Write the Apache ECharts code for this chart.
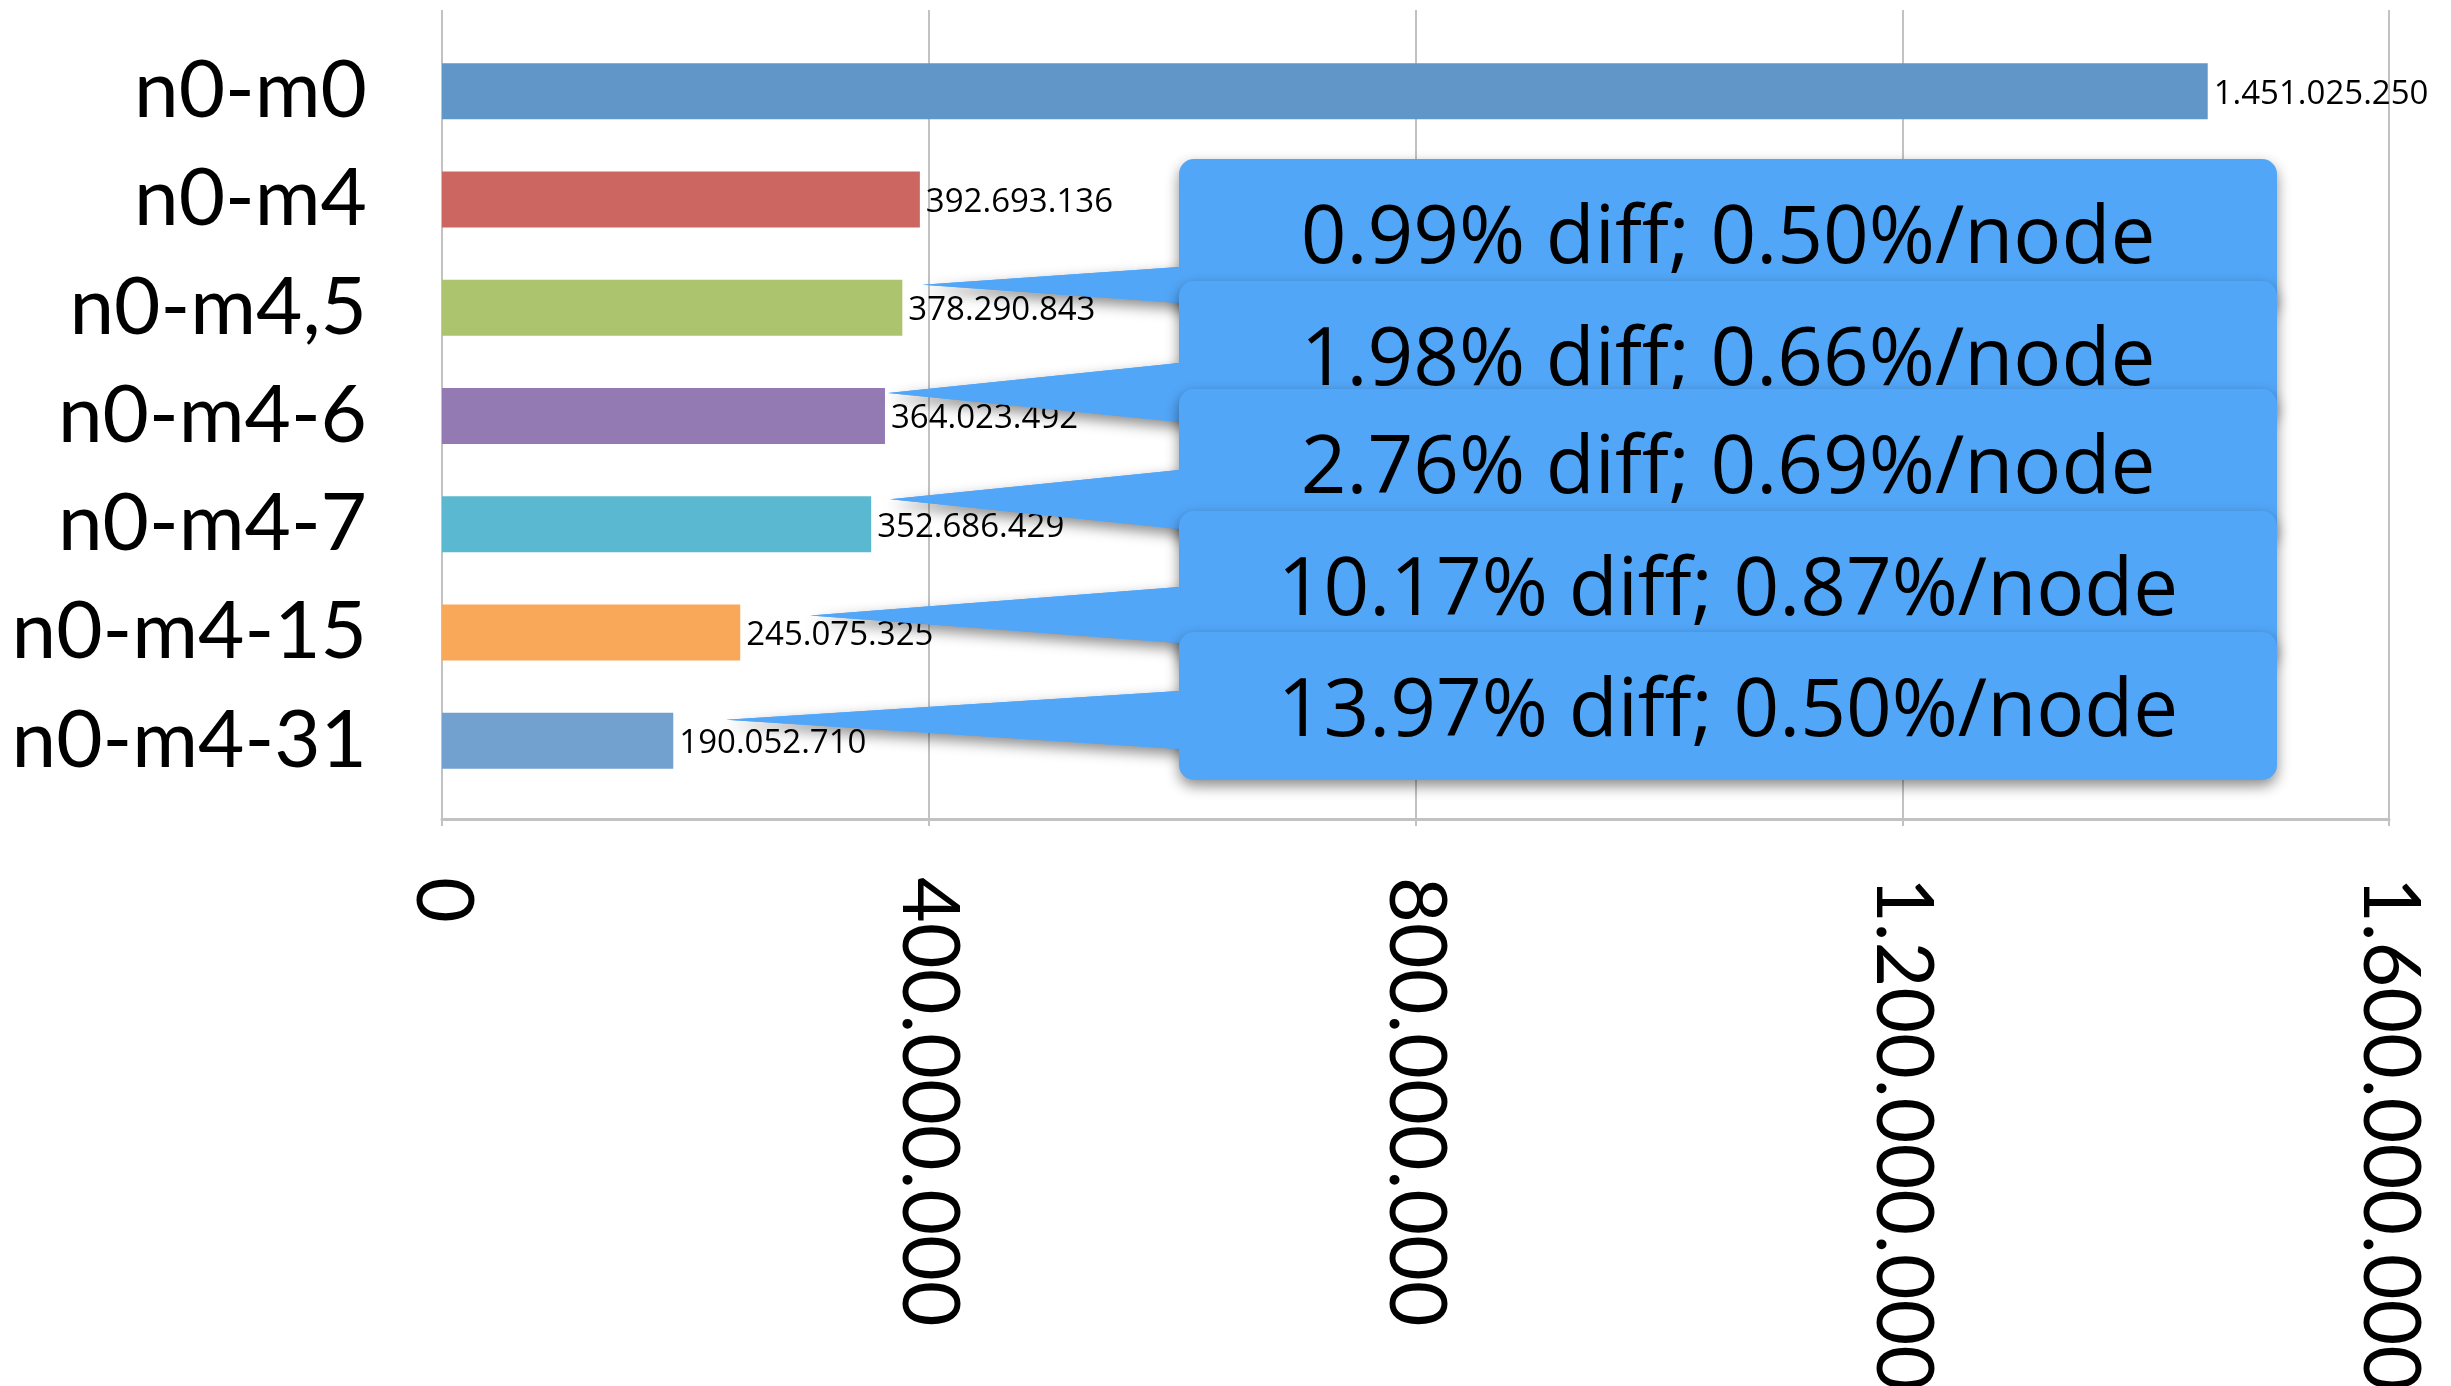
<!DOCTYPE html>
<html>
<head>
<meta charset="utf-8">
<script src="https://cdn.jsdelivr.net/npm/echarts@6/dist/echarts.min.js"></script>
<style>
  html, body { margin: 0; padding: 0; background: #ffffff; }
  #chart { width: 2451px; height: 1386px; }
</style>
</head>
<body>
<div id="chart"></div>
<script>
// Run counts per configuration
const categories = ['n0-m0', 'n0-m4', 'n0-m4,5', 'n0-m4-6', 'n0-m4-7', 'n0-m4-15', 'n0-m4-31'];
const values = [1451025250, 392693136, 378290843, 364023492, 352686429, 245075325, 190052710];
const barColors = ['#6096C8', '#CC6661', '#ACC46D', '#947AB2', '#5BB8D1', '#F9A859', '#72A0CF'];
const xTicks = [0, 400000000, 800000000, 1200000000, 1600000000];

// Callout notes and the bars they refer to
const notes = [
  '0.99% diff; 0.50%/node',
  '1.98% diff; 0.66%/node',
  '2.76% diff; 0.69%/node',
  '10.17% diff; 0.87%/node',
  '13.97% diff; 0.50%/node'
];
const noteTargets = ['n0-m4,5', 'n0-m4-6', 'n0-m4-7', 'n0-m4-15', 'n0-m4-31'];

// Callout bubble layout (page pixels)
const CALLOUT = {
  color: '#52A6F8',
  left: 1179,
  width: 1098,
  radius: 15,
  textDy: 81,
  tops: [159, 281, 389, 511, 632],
  bottoms: [311, 419, 541, 662, 780],
  bases: [[267, 303], [363, 422], [470, 529], [587, 643], [691, 749]],
  tipShift: [[20, -23], [3, -23], [19, -25], [70, -17], [53, -21]]
};

function dotted(v) {
  return String(Math.round(v)).replace(/\B(?=(\d{3})+(?!\d))/g, '.');
}

const gridColor = '#C2C2C2';
const chart = echarts.init(document.getElementById('chart'), null, { renderer: 'canvas' });

const shadow = {
  shadowBlur: 14,
  shadowColor: 'rgba(0,0,0,0.45)',
  shadowOffsetX: 0,
  shadowOffsetY: 6
};

function renderCallout(params, api) {
  const i = api.value(2);
  const p = api.coord([api.value(0), api.value(1)]);
  const tip = [p[0] + CALLOUT.tipShift[i][0], p[1] + CALLOUT.tipShift[i][1]];
  const L = CALLOUT.left;
  const top = CALLOUT.tops[i];
  const h = CALLOUT.bottoms[i] - top;
  const b = CALLOUT.bases[i];
  const wedgePts = [tip, [L, b[0]], [L + 40, b[0]], [L + 40, b[1]], [L, b[1]]];
  return {
    type: 'group',
    children: [
      { type: 'polygon', shape: { points: wedgePts }, style: Object.assign({ fill: CALLOUT.color }, shadow) },
      { type: 'rect', shape: { x: L, y: top, width: CALLOUT.width, height: h, r: CALLOUT.radius },
        style: Object.assign({ fill: CALLOUT.color }, shadow) },
      { type: 'polygon', shape: { points: wedgePts }, style: { fill: CALLOUT.color } },
      { type: 'text', x: L + CALLOUT.width / 2, y: top + CALLOUT.textDy,
        style: { text: notes[i], fill: '#000000', font: '80px "Open Sans"', align: 'center', verticalAlign: 'middle' } }
    ]
  };
}

const option = {
  backgroundColor: '#ffffff',
  animation: false,
  grid: [
    { left: 442, right: 62, top: 37, bottom: 591, outerBoundsMode: 'none', containLabel: false },
    { left: 442, right: 62, top: 10, bottom: 567, outerBoundsMode: 'none', containLabel: false }
  ],
  xAxis: [
    { type: 'value', gridIndex: 0, min: xTicks[0], max: xTicks[xTicks.length - 1], show: false },
    {
      type: 'value', gridIndex: 1,
      min: xTicks[0], max: xTicks[xTicks.length - 1], interval: xTicks[1] - xTicks[0],
      axisLine: { show: true, lineStyle: { color: gridColor, width: 3 } },
      axisTick: { show: true, length: 7, lineStyle: { color: gridColor, width: 2 } },
      splitLine: { show: true, lineStyle: { color: gridColor, width: 2 } },
      axisLabel: {
        rotate: -90, margin: 58, color: '#000000',
        fontFamily: 'Lato', fontSize: 79,
        formatter: dotted
      }
    }
  ],
  yAxis: [
    {
      type: 'category', gridIndex: 0, data: categories, inverse: true,
      axisLine: { show: false }, axisTick: { show: false }, splitLine: { show: false },
      axisLabel: { interval: 0, margin: 75, color: '#000000', fontFamily: 'Lato', fontSize: 80 }
    },
    { type: 'value', gridIndex: 1, min: 0, max: 1, show: false }
  ],
  series: [
    {
      type: 'bar', xAxisIndex: 0, yAxisIndex: 0,
      barWidth: 56,
      data: values.map((v, i) => ({ value: v, itemStyle: { color: barColors[i] } })),
      label: {
        show: true, position: 'right', distance: 6, offset: [0, 3],
        color: '#000000', fontFamily: 'Open Sans', fontSize: 33,
        formatter: (p) => dotted(p.value)
      },
      z: 2
    },
    {
      type: 'custom', xAxisIndex: 0, yAxisIndex: 0,
      clip: false, z: 5,
      encode: { x: 0, y: 1 },
      data: noteTargets.map((c, i) => {
        const k = categories.indexOf(c);
        return [values[k], k, i];
      }),
      renderItem: renderCallout
    }
  ]
};

chart.setOption(option);
</script>
</body>
</html>
